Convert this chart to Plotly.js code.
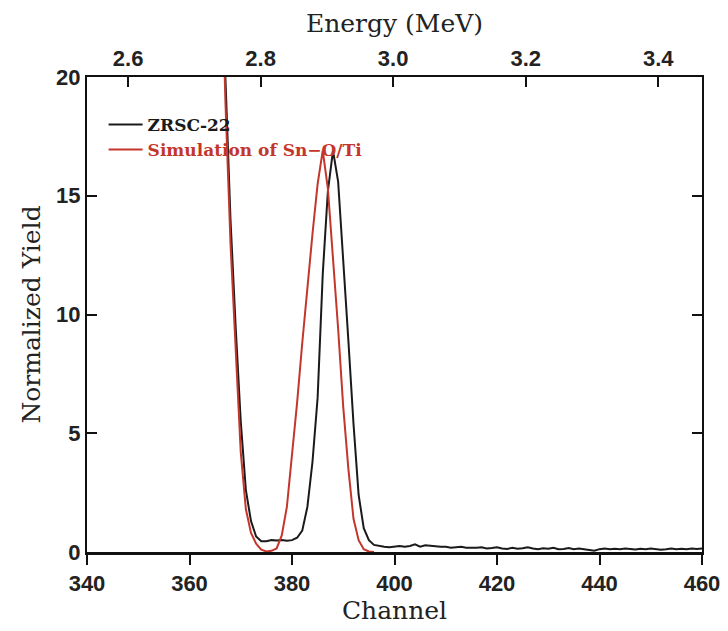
<!DOCTYPE html>
<html>
<head>
<meta charset="utf-8">
<script src="https://cdn.plot.ly/plotly-3.0.1.min.js"></script>
<style>html,body{margin:0;padding:0;background:#fff;}#chart{width:728px;height:631px;}</style>
</head>
<body>
<div id="chart"></div>
<script>
// Measured spectrum ZRSC-22 (channel, normalized yield)
const chMeasured = [366,367,368,369,370,371,372,373,374,375,376,377,378,379,380,381,382,383,384,385,386,387,388,389,390,391,392,393,394,395,396,
  397,398,399,400,401,402,403,404,405,406,407,408,409,410,411,412,413,414,415,416,417,418,419,420,421,422,423,424,425,426,427,428,
  429,430,431,432,433,434,435,436,437,438,439,440,441,442,443,444,445,446,447,448,449,450,451,452,453,454,455,456,457,458,459,460];
const yMeasured = [26,20.4,14,9.5,5.5,2.6,1.3,0.65,0.45,0.45,0.5,0.48,0.5,0.47,0.5,0.6,0.9,1.9,3.8,6.5,11.7,15.2,16.9,15.6,12.0,8.9,5.4,2.4,1.0,0.5,0.3,
  0.25,0.22,0.2,0.22,0.25,0.22,0.25,0.32,0.22,0.28,0.25,0.24,0.22,0.22,0.18,0.2,0.22,0.18,0.17,0.18,0.2,0.15,0.17,0.2,0.15,0.13,0.18,0.14,0.16,0.2,0.15,0.12,
  0.16,0.14,0.18,0.12,0.13,0.17,0.12,0.15,0.12,0.1,0.05,0.12,0.15,0.12,0.14,0.12,0.15,0.13,0.11,0.14,0.12,0.15,0.13,0.1,0.12,0.15,0.12,0.14,0.12,0.15,0.13,0.15];

// Simulation of Sn-O/Ti
const chSim = [366,367,368,369,370,371,372,373,374,375,376,377,378,379,380,381,382,383,384,385,386,387,388,389,390,391,392,393,394,395,396];
const ySim = [27,19,13,8.3,4.2,1.8,0.8,0.35,0.1,0.02,0.05,0.15,0.7,1.9,4.0,6.3,8.8,11.2,13.4,15.5,16.9,15.3,12.4,9.4,6.1,3.5,1.4,0.5,0.12,0.02,0];

const seriesNames = ['ZRSC-22', 'Simulation of Sn\u2212O/Ti'];
const xTitle = 'Channel';
const x2Title = 'Energy (MeV)';
const yTitle = 'Normalized Yield';
const energyTicks = [2.6, 2.8, 3.0, 3.2, 3.4];
const energyRange = [2.538, 3.466];

const RED = '#c4362c';
const serif = 'DejaVu Serif, serif';
const sans = 'Liberation Sans, Arial, sans-serif';

const traces = [
  {x: chMeasured, y: yMeasured, type: 'scatter', mode: 'lines', name: seriesNames[0],
   line: {color: '#1a1a1a', width: 2}},
  {x: chSim, y: ySim, type: 'scatter', mode: 'lines',
   name: '<span style="color:' + RED + '">' + seriesNames[1] + '</span>',
   line: {color: RED, width: 2}},
  // carrier for the top energy axis (draws nothing)
  {x: energyTicks, y: energyTicks.map(() => null), xaxis: 'x2', yaxis: 'y', type: 'scatter', mode: 'lines',
   showlegend: false, hoverinfo: 'skip', line: {width: 0}}
];

const layout = {
  width: 728, height: 631,
  paper_bgcolor: '#ffffff', plot_bgcolor: '#ffffff',
  margin: {l: 87, r: 26, t: 77, b: 79, autoexpand: false},
  showlegend: true,
  legend: {x: 0.027, y: 0.937, xanchor: 'left', yanchor: 'top', bgcolor: 'rgba(0,0,0,0)',
    font: {family: serif, size: 17, color: '#1a1a1a', weight: 'bold'}, itemwidth: 34, tracegroupgap: 0},
  xaxis: {
    range: [340, 460], dtick: 20, tick0: 340, ticks: 'outside', ticklen: 10, tickwidth: 2, tickcolor: '#111',
    showline: true, linewidth: 3, linecolor: '#111', mirror: false, showgrid: false, zeroline: false,
    tickfont: {family: sans, size: 22, color: '#222', weight: 'bold'},
    title: {text: xTitle, font: {family: serif, size: 25, color: '#222'}, standoff: 6},
    automargin: false
  },
  xaxis2: {
    overlaying: 'x', side: 'top', anchor: 'y', range: energyRange,
    tickvals: energyTicks, ticktext: energyTicks.map(v => v.toFixed(1)),
    ticks: 'inside', ticklen: 10, tickwidth: 2, tickcolor: '#111',
    showline: true, linewidth: 2, linecolor: '#111', showgrid: false, zeroline: false,
    tickfont: {family: sans, size: 22, color: '#222', weight: 'bold'},
    title: {text: x2Title, font: {family: serif, size: 25, color: '#222'}, standoff: 6},
    automargin: false
  },
  yaxis: {
    range: [0, 20], dtick: 5, ticks: 'inside', ticklen: 10, tickwidth: 2, tickcolor: '#111',
    showline: true, linewidth: 2, linecolor: '#111', mirror: 'ticks', showgrid: false, zeroline: false,
    tickfont: {family: sans, size: 22, color: '#222', weight: 'bold'},
    title: {text: yTitle, font: {family: serif, size: 25, color: '#222'}, standoff: 8},
    automargin: false
  }
};

Plotly.newPlot('chart', traces, layout, {displayModeBar: false, staticPlot: true});
</script>
</body>
</html>
